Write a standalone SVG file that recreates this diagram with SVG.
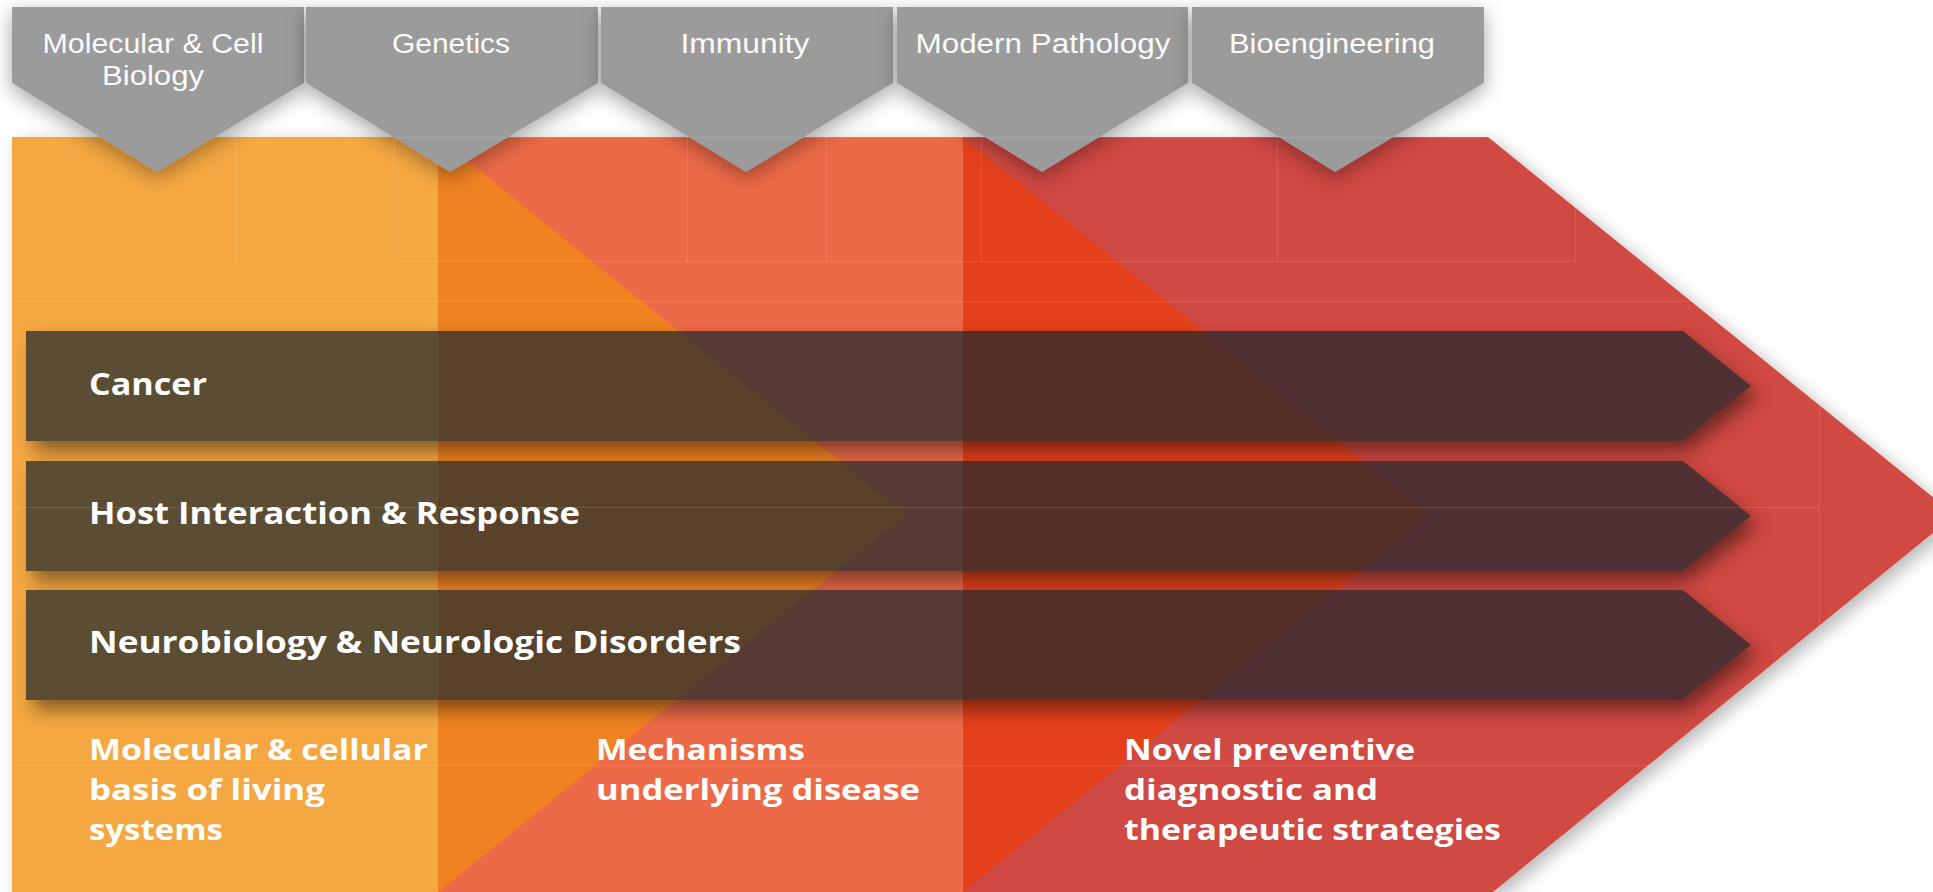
<svg xmlns="http://www.w3.org/2000/svg" width="1933" height="892" viewBox="0 0 1933 892">
  <defs>
    <style>
      .tabtxt { font-family: "Liberation Sans", Arial, sans-serif; font-size: 27px; font-weight: 400; fill: #FAFAFA; text-anchor: middle; }
      .bartxt { font-family: "Open Sans", "Liberation Sans", sans-serif; font-size: 30px; font-weight: 700; fill: #FFFFFF; }
      .lowtxt { font-family: "Open Sans", "Liberation Sans", sans-serif; font-size: 28px; font-weight: 700; fill: #FFFFFF; }
      .tab { fill: #9B9B9B; }
      .bar { fill: #1A262E; fill-opacity: 0.7; }
      .grid { stroke: #FFFFFF; stroke-opacity: 0.11; stroke-width: 1; fill: none; }
    </style>
    <filter id="shBig" x="-5%" y="-5%" width="112%" height="115%">
      <feGaussianBlur in="SourceAlpha" stdDeviation="9"/>
      <feOffset dx="6" dy="6" result="b"/>
      <feFlood flood-color="#000" flood-opacity="0.28"/>
      <feComposite in2="b" operator="in"/>
      <feMerge><feMergeNode/><feMergeNode in="SourceGraphic"/></feMerge>
    </filter>
    <filter id="shTab" x="-20%" y="-20%" width="140%" height="160%">
      <feGaussianBlur in="SourceAlpha" stdDeviation="10"/>
      <feOffset dx="0" dy="6" result="b"/>
      <feFlood flood-color="#000" flood-opacity="0.35"/>
      <feComposite in2="b" operator="in"/>
      <feMerge><feMergeNode/><feMergeNode in="SourceGraphic"/></feMerge>
    </filter>
    <filter id="blurBar" x="-5%" y="-30%" width="110%" height="160%">
      <feGaussianBlur stdDeviation="9"/>
    </filter>
    <mask id="barMask" maskUnits="userSpaceOnUse" x="0" y="0" width="1933" height="892">
      <rect x="0" y="0" width="1933" height="892" fill="#fff"/>
      <polygon points="26,331 1683,331 1751,386 1683,441 26,441" fill="#000"/>
      <polygon points="26,461 1683,461 1751,516 1683,571 26,571" fill="#000"/>
      <polygon points="26,590 1683,590 1751,645 1683,700 26,700" fill="#000"/>
    </mask>
  </defs>

  <rect x="0" y="0" width="1933" height="892" fill="#FFFFFF"/>

  <g id="stages" filter="url(#shBig)">
    <rect id="stage-1" x="12" y="137" width="426" height="755" fill="#F5A842"/>
    <rect id="stage-2" x="438" y="137" width="525" height="755" fill="#EC6B47"/>
    <polygon id="stage-3" points="963,137 1488,137 1955,515 1493,892 963,892" fill="#D04A43"/>
    <polygon id="overlap-1" points="438,137 906,515 438,892" fill="#EF8320"/>
    <polygon id="overlap-2" points="963,137 1430,515 963,892" fill="#E43F1C"/>
  </g>

  <g id="tabs">
    <g id="tab-molecular">
      <polygon class="tab" filter="url(#shTab)" points="12,7 304,7 304,83 157,172 12,83"/>
      <text class="tabtxt" x="153" y="53" textLength="221" lengthAdjust="spacingAndGlyphs">Molecular &amp; Cell</text>
      <text class="tabtxt" x="153" y="85" textLength="102" lengthAdjust="spacingAndGlyphs">Biology</text>
    </g>
    <g id="tab-genetics">
      <polygon class="tab" filter="url(#shTab)" points="306,7 598,7 598,83 450,172 306,83"/>
      <text class="tabtxt" x="451" y="53" textLength="118" lengthAdjust="spacingAndGlyphs">Genetics</text>
    </g>
    <g id="tab-immunity">
      <polygon class="tab" filter="url(#shTab)" points="601,7 893,7 893,83 746,172 601,83"/>
      <text class="tabtxt" x="745" y="53" textLength="129" lengthAdjust="spacingAndGlyphs">Immunity</text>
    </g>
    <g id="tab-pathology">
      <polygon class="tab" filter="url(#shTab)" points="897,7 1188,7 1188,83 1042,172 897,83"/>
      <text class="tabtxt" x="1043" y="53" textLength="255" lengthAdjust="spacingAndGlyphs">Modern Pathology</text>
    </g>
    <g id="tab-bioengineering">
      <polygon class="tab" filter="url(#shTab)" points="1192,7 1484,7 1484,83 1335,172 1192,83"/>
      <text class="tabtxt" x="1332" y="53" textLength="206" lengthAdjust="spacingAndGlyphs">Bioengineering</text>
    </g>
  </g>

  <g id="bar-shadows" mask="url(#barMask)">
    <g filter="url(#blurBar)" fill="#000" fill-opacity="0.45">
      <polygon points="34,341 1687,341 1757,396 1687,451 34,451"/>
      <polygon points="34,471 1687,471 1757,526 1687,581 34,581"/>
      <polygon points="34,600 1687,600 1757,655 1687,710 34,710"/>
    </g>
  </g>

  <g id="bars">
    <g id="bar-cancer">
      <polygon class="bar" points="26,331 1683,331 1751,386 1683,441 26,441"/>
      <text class="bartxt" x="89" y="395" textLength="118" lengthAdjust="spacingAndGlyphs">Cancer</text>
    </g>
    <g id="bar-host">
      <polygon class="bar" points="26,461 1683,461 1751,516 1683,571 26,571"/>
      <text class="bartxt" x="89" y="524" textLength="491" lengthAdjust="spacingAndGlyphs">Host Interaction &amp; Response</text>
    </g>
    <g id="bar-neuro">
      <polygon class="bar" points="26,590 1683,590 1751,645 1683,700 26,700"/>
      <text class="bartxt" x="89" y="653" textLength="652" lengthAdjust="spacingAndGlyphs">Neurobiology &amp; Neurologic Disorders</text>
    </g>
  </g>

  <g id="grid-lines">
    <rect class="grid" x="394.5" y="137.5" width="1181" height="124"/>
    <line class="grid" x1="236.5" y1="137" x2="236.5" y2="262"/>
    <line class="grid" x1="687.5" y1="137" x2="687.5" y2="262"/>
    <line class="grid" x1="826.5" y1="137" x2="826.5" y2="262"/>
    <line class="grid" x1="981.5" y1="137" x2="981.5" y2="262"/>
    <line class="grid" x1="1277.5" y1="137" x2="1277.5" y2="262"/>
    <line class="grid" x1="12" y1="301.5" x2="1819" y2="301.5"/>
    <line class="grid" x1="12" y1="507.5" x2="1819" y2="507.5"/>
    <line class="grid" x1="12" y1="765.5" x2="1819" y2="765.5"/>
    <line class="grid" x1="1819.5" y1="301" x2="1819.5" y2="765"/>
  </g>

  <g id="stage-labels">
    <g id="label-1">
      <text class="lowtxt" x="89" y="760" textLength="339" lengthAdjust="spacingAndGlyphs">Molecular &amp; cellular</text>
      <text class="lowtxt" x="89" y="800" textLength="236" lengthAdjust="spacingAndGlyphs">basis of living</text>
      <text class="lowtxt" x="89" y="840" textLength="134" lengthAdjust="spacingAndGlyphs">systems</text>
    </g>
    <g id="label-2">
      <text class="lowtxt" x="596" y="760" textLength="209" lengthAdjust="spacingAndGlyphs">Mechanisms</text>
      <text class="lowtxt" x="596" y="800" textLength="324" lengthAdjust="spacingAndGlyphs">underlying disease</text>
    </g>
    <g id="label-3">
      <text class="lowtxt" x="1124" y="760" textLength="291" lengthAdjust="spacingAndGlyphs">Novel preventive</text>
      <text class="lowtxt" x="1124" y="800" textLength="254" lengthAdjust="spacingAndGlyphs">diagnostic and</text>
      <text class="lowtxt" x="1124" y="840" textLength="377" lengthAdjust="spacingAndGlyphs">therapeutic strategies</text>
    </g>
  </g>
</svg>
